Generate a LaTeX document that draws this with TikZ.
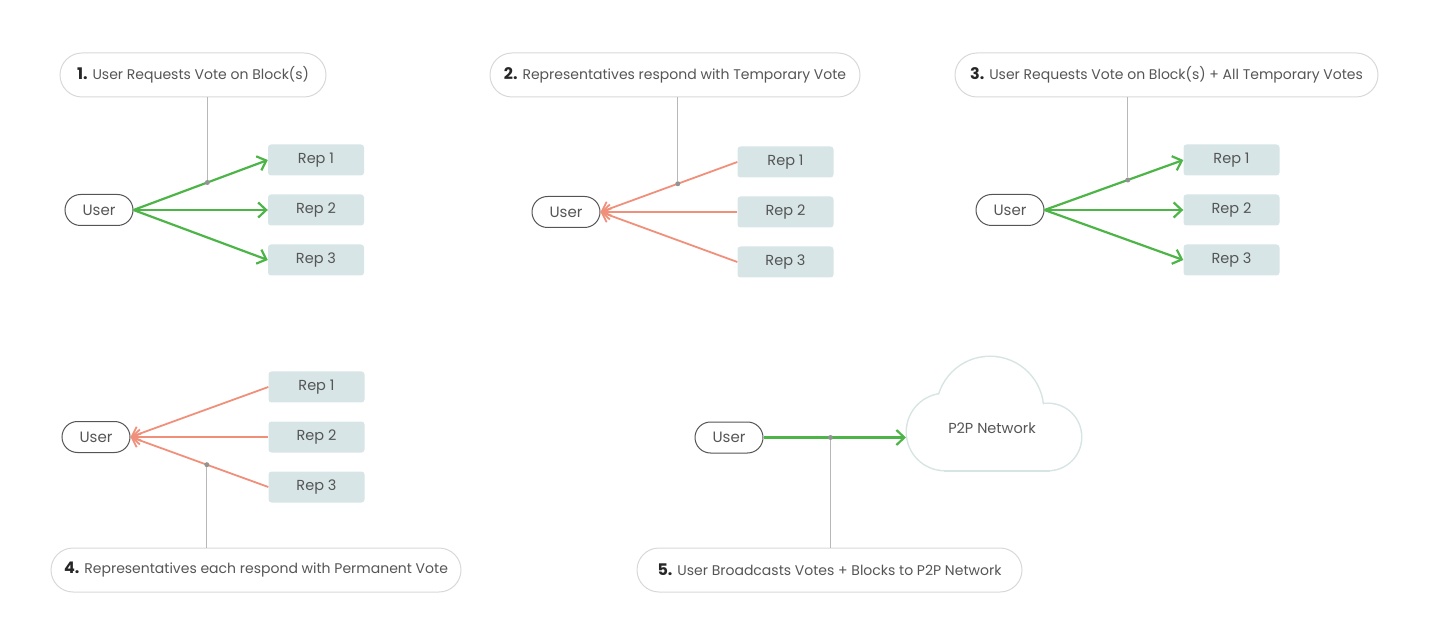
\documentclass[tikz,border=0pt]{standalone}
\usepackage{fontspec}
\setmainfont{Poppins}
\usetikzlibrary{arrows.meta, calc}
\definecolor{votegreen}{HTML}{4DB548}
\definecolor{votesalmon}{HTML}{F0907A}
\definecolor{repfill}{HTML}{D7E5E6}
\definecolor{pillline}{HTML}{D8D8D8}
\definecolor{textgray}{HTML}{555555}
\definecolor{stemgray}{HTML}{B8B8B8}
\definecolor{cloudline}{HTML}{D6E5E3}
\tikzstyle{steplabel} = [rectangle, rounded corners=22pt, minimum height=44pt, draw=pillline, line width=1pt, text=textgray, font=\fontsize{14}{16}\selectfont, yshift=-1pt]
\tikzstyle{user} = [rectangle, rounded corners=15.5pt, minimum width=68pt, minimum height=31pt, draw=textgray, line width=1pt, text=textgray, font=\fontsize{15}{16}\selectfont]
\tikzstyle{rep} = [rectangle, rounded corners=3pt, minimum width=96pt, minimum height=31pt, fill=repfill, text=textgray, font=\fontsize{14.5}{16}\selectfont]
\tikzstyle{request} = [line width=2.2pt, draw=votegreen, -{Straight Barb[length=8pt,width=15pt]}]
\tikzstyle{reply} = [line width=1.8pt, draw=votesalmon, -{Straight Barb[length=8pt,width=15pt]}]
\tikzstyle{stem} = [draw=stemgray, line width=1pt]
\tikzstyle{junction} = [circle, fill=stemgray!80!black, inner sep=0pt, minimum size=5pt]
\newcommand{\stepno}[1]{{\fontsize{16}{16}\selectfont\bfseries\color{black!85}#1}}

\begin{document}
\begin{tikzpicture}[x=1pt, y=-1pt, node distance=50pt]
    \useasboundingbox (0,0) rectangle (1452,636);

    % 1. request
    \node (lab1) [steplabel, minimum width=266pt] at (193,74) {\stepno{1.} User Requests Vote on Block(s)};
    \node (user1) [user] at (99,210) {User};
    \node (rep1a) [rep] at (316,160) {Rep 1};
    \node (rep2a) [rep, below of=rep1a] {Rep 2};
    \node (rep3a) [rep, below of=rep2a] {Rep 3};
    \draw [request] (user1.east) -- (rep1a.west);
    \draw [request] (user1.east) -- (rep2a.west);
    \draw [request] (user1.east) -- (rep3a.west);
    \node (j1) [junction] at ($(user1.east)!0.55!(rep1a.west)$) {};
    \draw [stem] (lab1.south -| j1) -- (j1.north);

    % 2. temporary vote
    \node (lab2) [steplabel, minimum width=370pt] at (675,74) {\stepno{2.} Representatives respond with Temporary Vote};
    \node (user2) [user] at (566,212) {User};
    \node (rep1b) [rep] at (785.5,162) {Rep 1};
    \node (rep2b) [rep, below of=rep1b] {Rep 2};
    \node (rep3b) [rep, below of=rep2b] {Rep 3};
    \draw [reply] (rep1b.west) -- (user2.east);
    \draw [reply] (rep2b.west) -- (user2.east);
    \draw [reply] (rep3b.west) -- (user2.east);
    \node (j2) [junction] at ($(rep1b.west)!0.435!(user2.east)$) {};
    \draw [stem] (lab2.south -| j2) -- (j2.north);

    % 3. request + temporary votes
    \node (lab3) [steplabel, minimum width=423pt] at (1166.5,74) {\stepno{3.} User Requests Vote on Block(s) + All Temporary Votes};
    \node (user3) [user] at (1010,210) {User};
    \node (rep1c) [rep] at (1231.5,160) {Rep 1};
    \node (rep2c) [rep, below of=rep1c] {Rep 2};
    \node (rep3c) [rep, below of=rep2c] {Rep 3};
    \draw [request] (user3.east) -- (rep1c.west);
    \draw [request] (user3.east) -- (rep2c.west);
    \draw [request] (user3.east) -- (rep3c.west);
    \node (j3) [junction] at ($(user3.east)!0.6!(rep1c.west)$) {};
    \draw [stem] (lab3.south -| j3) -- (j3.north);

    % 4. permanent vote
    \node (lab4) [steplabel, minimum width=410pt] at (256,569) {\stepno{4.} Representatives each respond with Permanent Vote};
    \node (user4) [user] at (96,437) {User};
    \node (rep1d) [rep] at (316.5,387) {Rep 1};
    \node (rep2d) [rep, below of=rep1d] {Rep 2};
    \node (rep3d) [rep, below of=rep2d] {Rep 3};
    \draw [reply] (rep1d.west) -- (user4.east);
    \draw [reply] (rep2d.west) -- (user4.east);
    \draw [reply] (rep3d.west) -- (user4.east);
    \node (j4) [junction] at ($(rep3d.west)!0.446!(user4.east)$) {};
    \draw [stem] (j4.south) -- (j4 |- lab4.north);

    % 5. broadcast
    \foreach \c/\r in {{990,410}/53pt, {1048,437}/33pt, {945,432}/38pt}
        \draw [cloudline, line width=3pt] (\c) circle (\r);
    \draw [cloudline, line width=3pt] (945,430) rectangle (1048,470);
    \foreach \c/\r in {{990,410}/53pt, {1048,437}/33pt, {945,432}/38pt}
        \fill [white] (\c) circle (\r);
    \fill [white] (945,430) rectangle (1048,470);
    \node (net) [text=textgray, font=\fontsize{14.5}{16}\selectfont] at (992,428) {P2P Network};
    \coordinate (netin) at (906,437.5);
    \node (lab5) [steplabel, minimum width=385pt] at (829.5,569) {\stepno{5.} User Broadcasts Votes + Blocks to P2P Network};
    \node (user5) [user] at (729,437.5) {User};
    \draw [request] (user5.east) -- (netin);
    \node (j5) [junction] at ($(user5.east)!0.47!(netin)$) {};
    \draw [stem] (j5.south) -- (j5 |- lab5.north);
\end{tikzpicture}
\end{document}
